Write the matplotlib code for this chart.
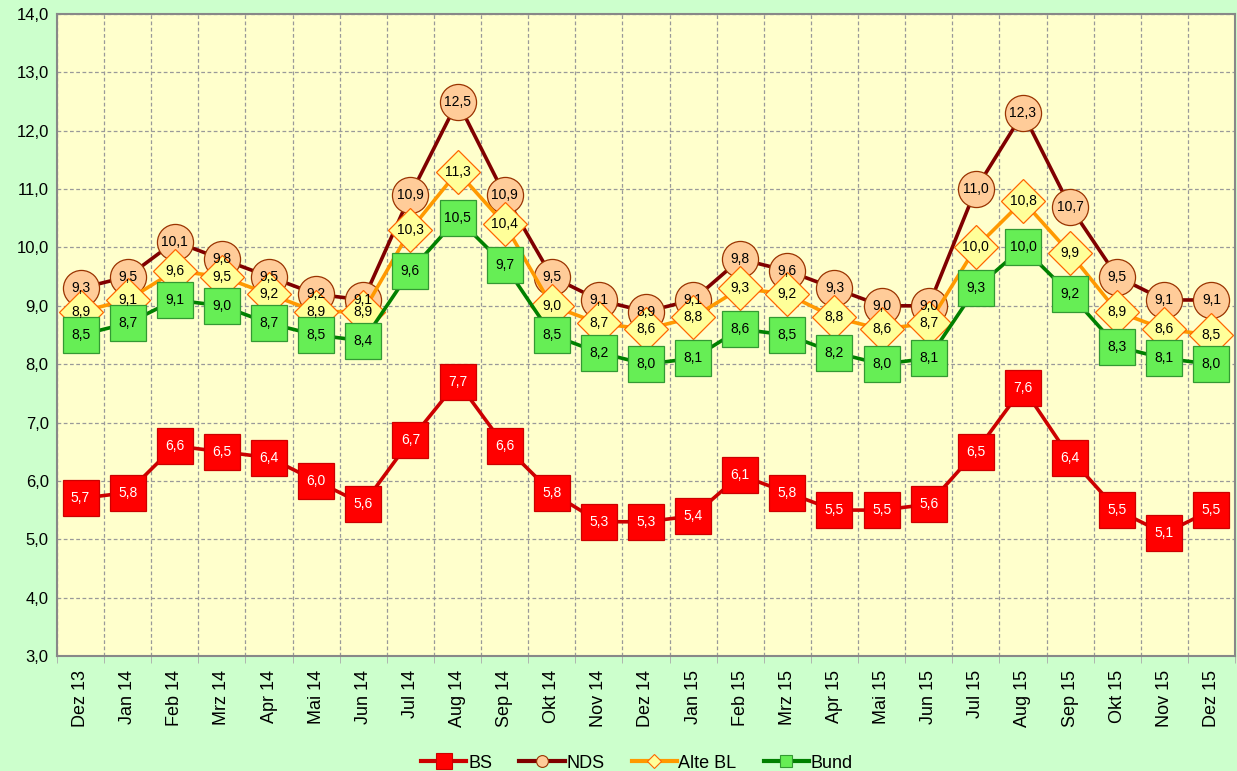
import matplotlib
matplotlib.use("Agg")
import matplotlib.pyplot as plt
import numpy as np

plt.rcParams['font.family'] = ['Liberation Sans', 'DejaVu Sans']

# Months and series values
months = ["Dez 13", "Jan 14", "Feb 14", "Mrz 14", "Apr 14", "Mai 14", "Jun 14",
          "Jul 14", "Aug 14", "Sep 14", "Okt 14", "Nov 14", "Dez 14", "Jan 15",
          "Feb 15", "Mrz 15", "Apr 15", "Mai 15", "Jun 15", "Jul 15", "Aug 15",
          "Sep 15", "Okt 15", "Nov 15", "Dez 15"]
bs = [5.7, 5.8, 6.6, 6.5, 6.4, 6.0, 5.6, 6.7, 7.7, 6.6, 5.8, 5.3, 5.3, 5.4,
      6.1, 5.8, 5.5, 5.5, 5.6, 6.5, 7.6, 6.4, 5.5, 5.1, 5.5]
nds = [9.3, 9.5, 10.1, 9.8, 9.5, 9.2, 9.1, 10.9, 12.5, 10.9, 9.5, 9.1, 8.9, 9.1,
       9.8, 9.6, 9.3, 9.0, 9.0, 11.0, 12.3, 10.7, 9.5, 9.1, 9.1]
alte_bl = [8.9, 9.1, 9.6, 9.5, 9.2, 8.9, 8.9, 10.3, 11.3, 10.4, 9.0, 8.7, 8.6, 8.8,
           9.3, 9.2, 8.8, 8.6, 8.7, 10.0, 10.8, 9.9, 8.9, 8.6, 8.5]
bund = [8.5, 8.7, 9.1, 9.0, 8.7, 8.5, 8.4, 9.6, 10.5, 9.7, 8.5, 8.2, 8.0, 8.1,
        8.6, 8.5, 8.2, 8.0, 8.1, 9.3, 10.0, 9.2, 8.3, 8.1, 8.0]

# (label, values, line colour, marker, marker face, marker edge, marker size, text colour, legend marker size)
series = [
    ("BS", bs, "#CC0000", "s", "#FF0000", "#CC0000", 26, "white", 12),
    ("NDS", nds, "#800000", "o", "#FFCC99", "#993300", 26, "black", 8.5),
    ("Alte BL", alte_bl, "#FF9900", "D", "#FFFF99", "#FF6600", 22, "black", 7),
    ("Bund", bund, "#008000", "s", "#66EE55", "#339933", 26, "black", 9),
]

fig = plt.figure(figsize=(12.37, 7.71), dpi=100, facecolor="#CCFFCC")
ax = fig.add_axes([57 / 1237, 1 - 656 / 771, (1235 - 57) / 1237, (656 - 14) / 771])
ax.set_facecolor("#FFFFCC")

x = np.arange(len(months))
for i, (name, vals, lc, mk, mf, me, ms, tc, lms) in enumerate(series):
    ax.plot(x, vals, color=lc, lw=2.6, marker=mk, markersize=ms,
            markerfacecolor=mf, markeredgecolor=me, markeredgewidth=0.9,
            zorder=3 + i, clip_on=False)
    for xi, v in zip(x, vals):
        ax.text(xi, v, f"{v:.1f}".replace(".", ","), ha="center", va="center",
                fontsize=10, color=tc, zorder=20)

ax.set_xlim(-0.5, len(months) - 0.5)
ax.set_ylim(3, 14)
yt = np.arange(3, 14.01, 1)
ax.set_yticks(yt)
ax.set_yticklabels([f"{t:.1f}".replace(".", ",") for t in yt], fontsize=12)
ax.set_xticks(x)
ax.set_xticklabels(months, rotation=90, fontsize=13)
ax.set_xticks(np.arange(-0.5, len(months)), minor=True)
ax.tick_params(axis="x", which="major", length=0, pad=10)
ax.tick_params(axis="x", which="minor", length=5, color="#AAAAAA", direction="out")
ax.tick_params(axis="y", length=0, pad=6)

ax.grid(True, axis="y", which="major", color="#999999", ls=(0, (3, 2)), lw=0.9)
ax.grid(True, axis="x", which="minor", color="#999999", ls=(0, (3, 2)), lw=0.9)
ax.set_axisbelow(True)
for side in ["left", "bottom", "right", "top"]:
    ax.spines[side].set_color("#888888")
    ax.spines[side].set_linewidth(1.5)

leg_handles = []
for name, vals, lc, mk, mf, me, ms, tc, lms in series:
    h, = plt.plot([], [], color=lc, lw=3, marker=mk, markersize=lms,
                  markerfacecolor=mf, markeredgecolor=me, markeredgewidth=0.8)
    leg_handles.append(h)
fig.legend(leg_handles, [s[0] for s in series], loc="lower center",
           bbox_to_anchor=(0.515, -0.022), ncol=4, frameon=False, fontsize=13,
           handlelength=2.5, handletextpad=0.1, columnspacing=1.5)

fig.savefig("out.png", dpi=100, facecolor=fig.get_facecolor())
